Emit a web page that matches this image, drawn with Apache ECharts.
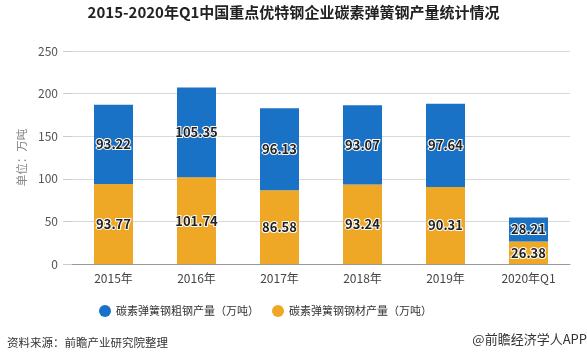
<!DOCTYPE html>
<html><head><meta charset="utf-8">
<script src="https://cdn.jsdelivr.net/npm/echarts@6/dist/echarts.min.js"></script>
<style>html,body{margin:0;padding:0;background:#fff}#c{width:587px;height:364px}</style>
</head><body><div id="c"></div>
<script>
const categories = ['2015年','2016年','2017年','2018年','2019年','2020年Q1'];
const crudeSteel = [93.22, 105.35, 96.13, 93.07, 97.64, 28.21];
const steelProducts = [93.77, 101.74, 86.58, 93.24, 90.31, 26.38];
const seriesNames = ['碳素弹簧钢粗钢产量（万吨）','碳素弹簧钢钢材产量（万吨）'];
const titleText = '2015-2020年Q1中国重点优特钢企业碳素弹簧钢产量统计情况';
const sourceText = '资料来源：前瞻产业研究院整理';
const brandText = '@前瞻经济学人APP';
const yAxisName = '单位：万吨';

const FONT = '"Noto Sans CJK SC", "Noto Sans", sans-serif';
const chart = echarts.init(document.getElementById('c'), null, {renderer:'canvas'});
const labelStyle = {
  show: true, position: 'inside', color: '#222', fontSize: 13, fontWeight: 'bold',
  fontFamily: FONT, textBorderColor: '#fff', textBorderWidth: 2,
  formatter: p => p.value.toFixed(2)
};
chart.setOption({
  animation: false,
  textStyle: {fontFamily: FONT},
  title: {text: titleText, left: 'center', top: 0,
    textStyle: {fontSize: 15, fontWeight: 'bold', color: '#222', fontFamily: FONT}},
  legend: {data: seriesNames, bottom: 42, left: 94, itemGap: 13, icon: 'circle', itemWidth: 12, itemHeight: 12,
    textStyle: {fontSize: 11, color: '#333', fontFamily: FONT}},
  grid: {left: 72, right: 17, top: 51, bottom: 100},
  xAxis: {type: 'category', data: categories,
    axisLine: {lineStyle: {color: '#999'}},
    axisTick: {alignWithLabel: true, lineStyle: {color: '#999'}},
    axisLabel: {color: '#444', fontSize: 12, margin: 8}},
  yAxis: {type: 'value', min: 0, max: 250, interval: 50,
    name: yAxisName, nameLocation: 'middle', nameGap: 37, nameRotate: 90,
    nameTextStyle: {color: '#888', fontSize: 11.5},
    axisLine: {show: false},
    axisTick: {show: true, length: 9, lineStyle: {color: '#ccc'}},
    axisLabel: {color: '#555', fontSize: 12, margin: 14},
    splitLine: {lineStyle: {color: '#d9d9d9'}}},
  series: [
    {name: seriesNames[1], type: 'bar', stack: 'a', data: steelProducts, barWidth: 39,
     itemStyle: {color: '#eea826'}, label: labelStyle},
    {name: seriesNames[0], type: 'bar', stack: 'a', data: crudeSteel, barWidth: 39,
     itemStyle: {color: '#1a72c6'}, label: labelStyle}
  ],
  graphic: [
    {type: 'text', left: 7, top: 337, style: {text: sourceText, fontSize: 11.5, fill: '#333', fontFamily: FONT}},
    {type: 'text', right: 0, top: 333, style: {text: brandText, fontSize: 13, fill: '#333', fontFamily: FONT}}
  ]
});
</script></body></html>
